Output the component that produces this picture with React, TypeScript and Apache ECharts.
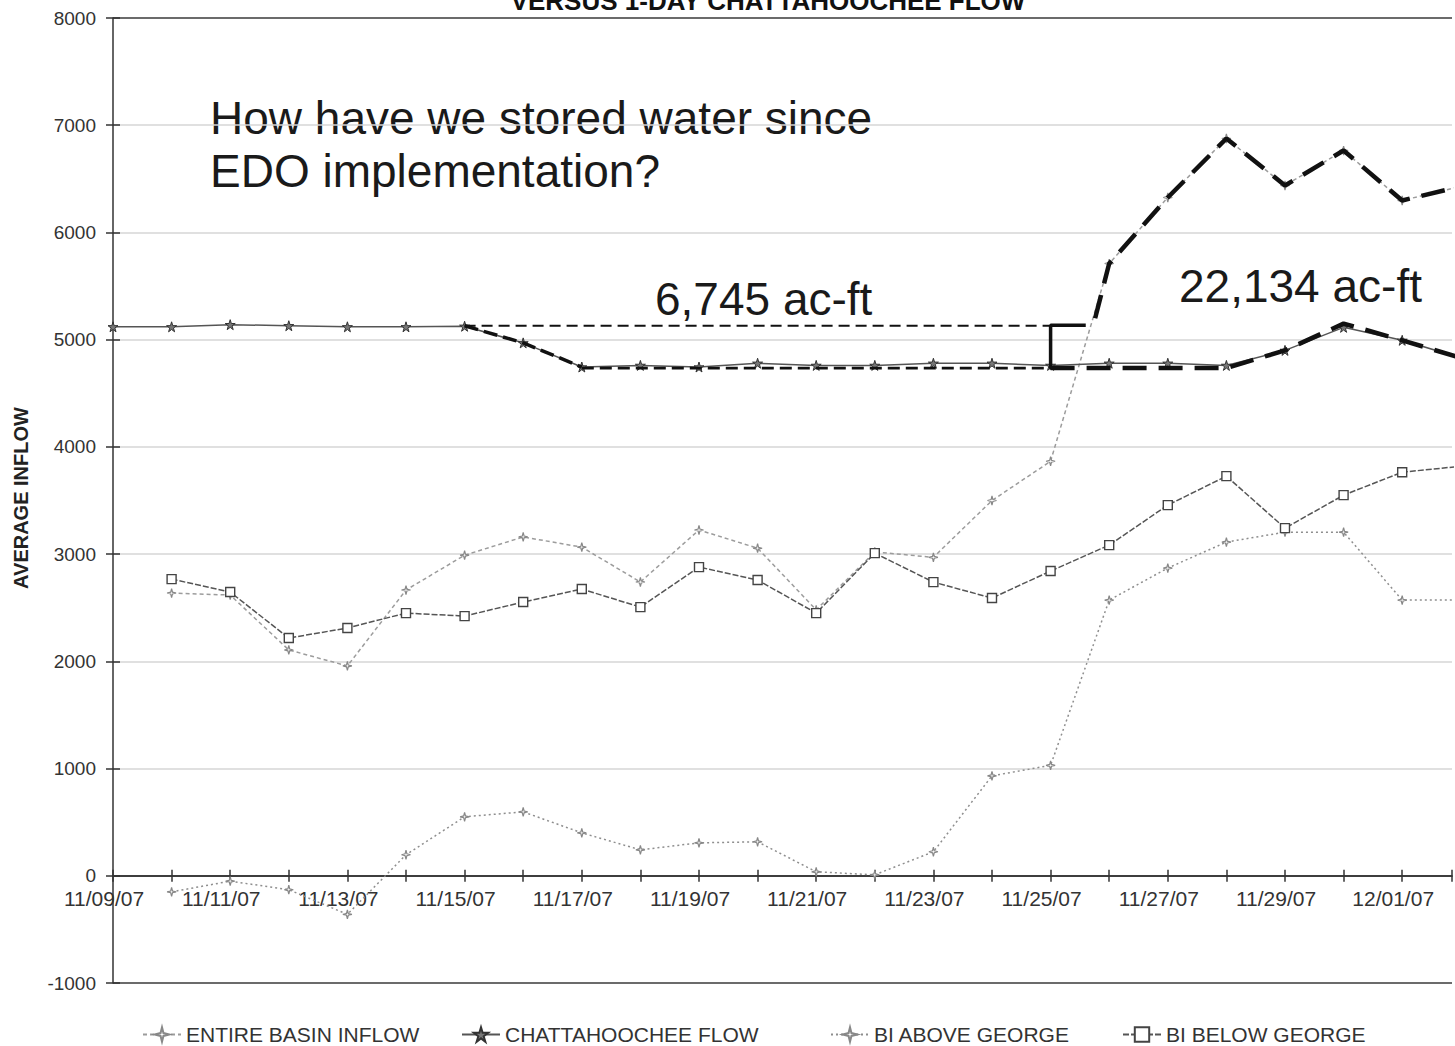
import React, { useEffect, useRef } from "react";
import * as echarts from "echarts";

// ---- data ----
const dates = [
  "11/09/07", "11/10/07", "11/11/07", "11/12/07", "11/13/07", "11/14/07",
  "11/15/07", "11/16/07", "11/17/07", "11/18/07", "11/19/07", "11/20/07",
  "11/21/07", "11/22/07", "11/23/07", "11/24/07", "11/25/07", "11/26/07",
  "11/27/07", "11/28/07", "11/29/07", "11/30/07", "12/01/07", "12/02/07",
];
const yTicks = [-1000, 0, 1000, 2000, 3000, 4000, 5000, 6000, 7000, 8000];

const entireBasinInflow = [null, 2637, 2618, 2106, 1957, 2665, 2990, 3160, 3065, 2740, 3225, 3055, 2480, 3020, 2970, 3500, 3866, 5710, 6326, 6876, 6438, 6764, 6298, 6430];
const chattahoocheeFlow = [5120, 5120, 5140, 5130, 5120, 5120, 5125, 4970, 4745, 4760, 4745, 4780, 4760, 4760, 4780, 4780, 4760, 4780, 4780, 4760, 4900, 5115, 4994, 4830];
const biAboveGeorge = [null, -150, -50, -130, -360, 196, 550, 596, 400, 242, 307, 317, 37, 9, 224, 932, 1030, 2571, 2870, 3112, 3205, 3205, 2571, 2571];
const biBelowGeorge = [null, 2767, 2646, 2217, 2311, 2450, 2422, 2553, 2674, 2506, 2879, 2758, 2450, 3009, 2739, 2590, 2842, 3084, 3457, 3727, 3242, 3550, 3764, 3819];

// hand-drawn annotation outlines ([day index, flow])
const storedTopEdge = [[6, 5130], [16, 5130]];
const storedBottomEdge = [[8, 4735], [16, 4735]];
const storedSlope = [[6, 5130], [7, 4970], [8, 4745]];
const bracket = [[16.6, 5135], [16, 5135], [16, 4735], [16.4, 4735]];
const gainLower = [[16, 4735], [19, 4735], [20, 4900], [21, 5150], [22, 4994], [23, 4830]];
const gainUpper = [[16.76, 5200], [17, 5710], [18, 6326], [19, 6876], [20, 6438], [21, 6764], [22, 6298], [23, 6430]];

const titleText = "VERSUS 1-DAY CHATTAHOOCHEE FLOW";
const questionLines = ["How have we stored water since", "EDO implementation?"];
const storedLabel = "6,745 ac-ft";
const gainLabel = "22,134 ac-ft";
const yAxisName = "AVERAGE INFLOW";

const FONT = "'Liberation Sans', Arial, Helvetica, sans-serif";
const STAR5 = "path://M50,0 L61,35 L98,35 L68,57 L79,91 L50,70 L21,91 L32,57 L2,35 L39,35 Z";
const STAR4 = "path://M50,0 L60,40 L100,50 L60,60 L50,100 L40,60 L0,50 L40,40 Z";

const toXY = (arr: (number | null)[]) =>
  arr.map((v, i) => (v === null ? null : [i, v])).filter((p) => p !== null);

const X_MAX = 22.85;

export default function App() {
  const ref = useRef<HTMLDivElement>(null);
  useEffect(() => {
    document.body.style.margin = "0";
    const chart = echarts.init(ref.current as HTMLDivElement, null, { renderer: "svg" });
    const annot = (name: string, data: number[][], width: number, type: any, z = 5) => ({
      name,
      type: "line",
      data,
      symbol: "none",
      silent: true,
      z,
      lineStyle: { color: "#111", width, type },
    });
    const lineColors = yTicks.map((t, i) => (i === 0 || i === yTicks.length - 1 ? "#3a3a3a" : "#d6d6d6"));
    const option: any = {
      animation: false,
      backgroundColor: "#fff",
      textStyle: { fontFamily: FONT },
      grid: { left: 113, right: 0, top: 18, bottom: 63, containLabel: false },
      xAxis: [
        {
          type: "value",
          min: 0,
          max: X_MAX,
          interval: 1,
          axisLine: { onZero: true, onZeroAxisIndex: 0, lineStyle: { color: "#333", width: 1.5 } },
          axisTick: { show: true, length: 6, lineStyle: { color: "#333", width: 1.5 } },
          splitLine: { show: false },
          axisLabel: {
            margin: -95,
            fontSize: 21,
            color: "#333",
            fontFamily: FONT,
            padding: [0, 18, 0, 0],
            formatter: (v: number) => {
              const r = Math.round(v);
              return Math.abs(v - r) < 1e-6 && r % 2 === 0 && dates[r] ? dates[r] : "";
            },
          },
        },
        {
          type: "value",
          min: 0,
          max: X_MAX,
          interval: 1,
          position: "bottom",
          axisLine: { onZero: true, onZeroAxisIndex: 1, lineStyle: { color: "#333", width: 1.5 } },
          axisTick: { show: true, inside: true, length: 6, lineStyle: { color: "#333", width: 1.5 } },
          splitLine: { show: false },
          axisLabel: { show: false },
        },
      ],
      yAxis: [
        {
          type: "value",
          min: -1000,
          max: 8000,
          interval: 1000,
          axisLine: { show: true, onZero: false, lineStyle: { color: "#333", width: 1.5 } },
          axisTick: { show: true, length: 7, lineStyle: { color: "#333", width: 1.5 } },
          splitLine: { show: true, lineStyle: { color: lineColors, width: 1.6 } },
          axisLabel: { margin: 17, fontSize: 19, color: "#333", fontFamily: FONT, formatter: (v: number) => String(v) },
        },
        {
          type: "value",
          min: -1000,
          max: 8000,
          interval: 1000,
          position: "left",
          axisLine: { show: false, onZero: false },
          axisTick: { show: true, inside: true, length: 7, lineStyle: { color: "#333", width: 1.5 } },
          splitLine: { show: false },
          axisLabel: { show: false },
        },
      ],
      legend: [
        { name: "ENTIRE BASIN INFLOW", left: 142 },
        { name: "CHATTAHOOCHEE FLOW", left: 461 },
        { name: "BI ABOVE GEORGE", left: 830 },
        { name: "BI BELOW GEORGE", left: 1122 },
      ].map((l) => ({
        data: [l.name],
        left: l.left,
        top: 1024,
        itemWidth: 38,
        itemHeight: 18,
        padding: 0,
        selectedMode: false,
        textStyle: { fontSize: 21, color: "#333", fontFamily: FONT },
      })),
      series: [
        {
          name: "ENTIRE BASIN INFLOW",
          type: "line",
          data: toXY(entireBasinInflow),
          symbol: STAR4,
          symbolSize: 9,
          z: 3,
          lineStyle: { color: "#9c9c9c", width: 1.5, type: [4, 3] },
          itemStyle: { color: "#fff", borderColor: "#888", borderWidth: 1.2 },
        },
        {
          name: "CHATTAHOOCHEE FLOW",
          type: "line",
          data: toXY(chattahoocheeFlow),
          symbol: STAR5,
          symbolSize: 10,
          z: 4,
          lineStyle: { color: "#555", width: 1.5, type: "solid" },
          itemStyle: { color: "#777", borderColor: "#333", borderWidth: 1 },
        },
        {
          name: "BI ABOVE GEORGE",
          type: "line",
          data: toXY(biAboveGeorge),
          symbol: STAR4,
          symbolSize: 9,
          z: 3,
          lineStyle: { color: "#8e8e8e", width: 1.5, type: [2, 3] },
          itemStyle: { color: "#fff", borderColor: "#888", borderWidth: 1.2 },
        },
        {
          name: "BI BELOW GEORGE",
          type: "line",
          data: toXY(biBelowGeorge),
          symbol: "rect",
          symbolSize: 9,
          z: 3,
          lineStyle: { color: "#555", width: 1.5, type: [6, 2] },
          itemStyle: { color: "#fff", borderColor: "#444", borderWidth: 1.4 },
        },
        annot("storedTop", storedTopEdge, 2, [11, 6]),
        annot("storedBottom", storedBottomEdge, 2.6, [12, 6]),
        annot("storedSlope", storedSlope, 3.5, [14, 6]),
        annot("bracket", bracket, 3.5, "solid", 6),
        annot("gainLower", gainLower, 4.5, [24, 12], 6),
        annot("gainUpper", gainUpper, 4.5, [24, 12], 6),
      ],
      graphic: [
        {
          type: "text",
          x: 768,
          y: 1,
          silent: true,
          style: { text: titleText, font: `bold 26px ${FONT}`, fill: "#111", align: "center", verticalAlign: "middle" },
        },
        {
          type: "text",
          x: 21,
          y: 498,
          rotation: Math.PI / 2,
          silent: true,
          style: { text: yAxisName, font: `bold 20px ${FONT}`, fill: "#222", align: "center", verticalAlign: "middle" },
        },
        {
          type: "text",
          x: 210,
          y: 118,
          silent: true,
          style: { text: questionLines[0], font: `46px ${FONT}`, fill: "#1a1a1a", align: "left", verticalAlign: "middle" },
        },
        {
          type: "text",
          x: 210,
          y: 171,
          silent: true,
          style: { text: questionLines[1], font: `46px ${FONT}`, fill: "#1a1a1a", align: "left", verticalAlign: "middle" },
        },
        {
          type: "text",
          x: 655,
          y: 299,
          silent: true,
          style: { text: storedLabel, font: `46px ${FONT}`, fill: "#1a1a1a", align: "left", verticalAlign: "middle" },
        },
        {
          type: "text",
          x: 1179,
          y: 286,
          silent: true,
          style: { text: gainLabel, font: `46px ${FONT}`, fill: "#1a1a1a", align: "left", verticalAlign: "middle" },
        },
      ],
    };
    chart.setOption(option);
    return () => chart.dispose();
  }, []);
  return (
    <div
      ref={ref}
      style={{ position: "fixed", left: 0, top: 0, width: "1455px", height: "1046px", background: "#fff" }}
    />
  );
}
